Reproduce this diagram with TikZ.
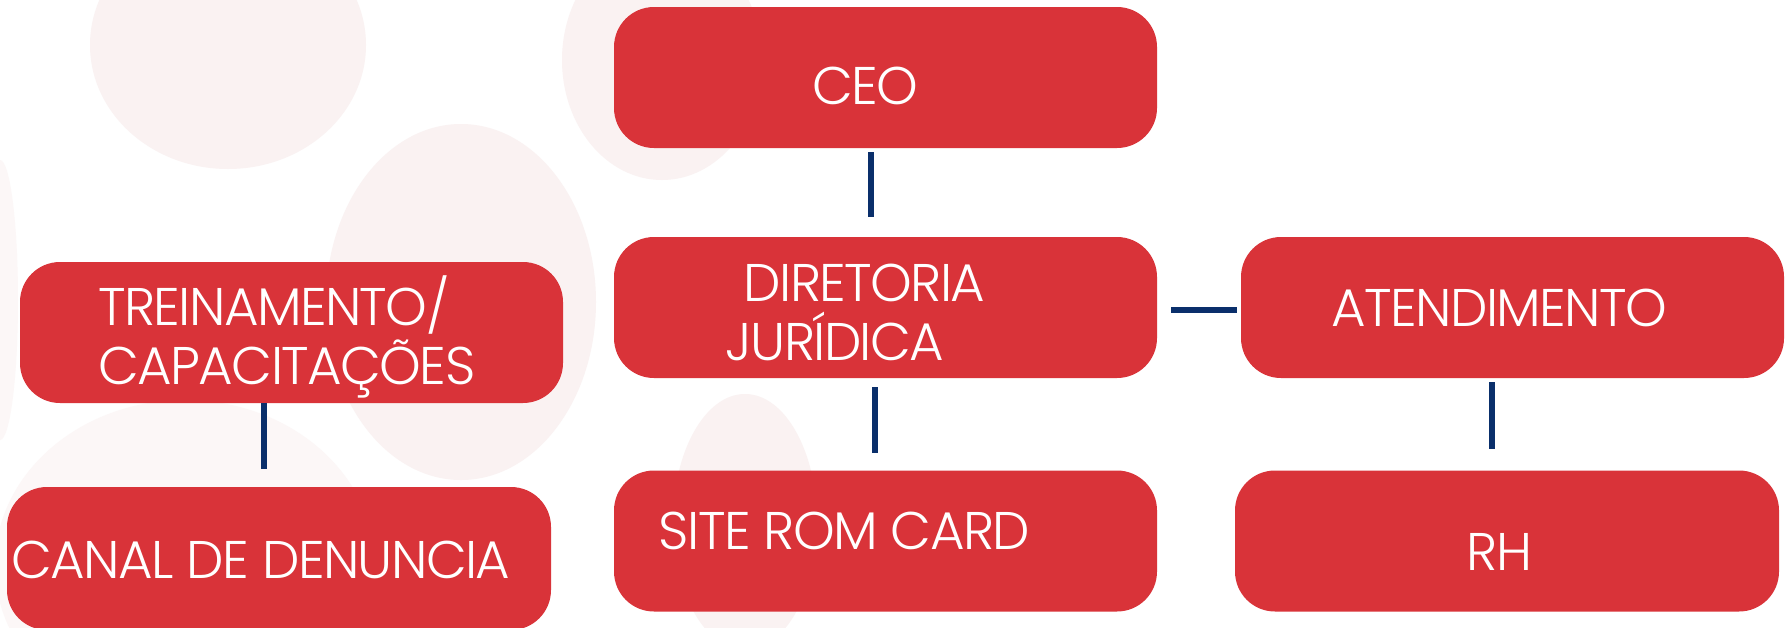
\documentclass[tikz,border=0pt]{standalone}
\usepackage{fontspec}
\IfFontExistsTF{Poppins Light}{\setmainfont{Poppins Light}[LetterSpace=-3]}{\setmainfont{Poppins}[LetterSpace=-3]}
\definecolor{boxred}{HTML}{D93339}
\definecolor{navy}{HTML}{0A2F6B}
\definecolor{blob}{HTML}{FAF2F2}
\definecolor{blobfaint}{HTML}{FCF7F7}
\tikzset{
  box/.style={fill=boxred, rounded corners=40pt, inner sep=0pt, outer sep=0pt, minimum width=543pt, minimum height=141pt},
  lbl/.style={text=white, font=\fontsize{53}{59}\selectfont, inner sep=0pt, anchor=base},
  conn/.style={draw=navy, line width=6pt},
  deco/.style={fill=blob, draw=none}
}
\begin{document}
\begin{tikzpicture}[x=1pt,y=-1pt]
\useasboundingbox (0,0) rectangle (1787,627);
\clip (0,0) rectangle (1787,627);
\fill[white] (0,0) rectangle (1787,627);
% faint background blobs
\fill[blobfaint] (185,565) ellipse [x radius=190, y radius=165];
\fill[blobfaint] (0,300) ellipse [x radius=18, y radius=140];
\fill[deco] (228,45) ellipse [x radius=138, y radius=124];
\fill[deco] (461,302) ellipse [x radius=135, y radius=178];
\fill[deco] (662,60) ellipse [x radius=100, y radius=120];
\fill[deco] (745,522) ellipse [x radius=72, y radius=128];
% boxes
\node[box] (ceo) at (885.5,77.5) {};
\node[box] (dir) at (885.5,307.5) {};
\node[box] (site) at (885.5,541) {};
\node[box] (trein) at (291.5,332.5) {};
\node[box, minimum width=544pt, minimum height=143pt] (canal) at (279,558.5) {};
\node[box] (atend) at (1512.5,307.5) {};
\node[box, minimum width=544pt] (rh) at (1507,541) {};
% labels
\node[lbl] (tceo) at (865.5,104) {CEO};
\node[lbl] (tdir1) at (864.5,301) {DIRETORIA};
\node[lbl] (tdir2) at (835,360) {JURÍDICA};
\node[lbl] (tsite) at (844.5,549) {SITE ROM CARD};
\node[lbl, anchor=base west] (ttr1) at (98,325) {TREINAMENTO/};
\node[lbl, anchor=base west] (ttr2) at (98,384) {CAPACITAÇÕES};
\node[lbl] (tcanal) at (261,578) {CANAL DE DENUNCIA};
\node[lbl] (tatend) at (1499.5,326) {ATENDIMENTO};
\node[lbl] (trh) at (1499.5,570) {RH};
% connector anchors
\coordinate (c1) at ([xshift=-15pt]ceo.south);
\coordinate (c2) at ([xshift=-11pt]dir.south);
\coordinate (c3) at ([xshift=-27.5pt]trein.south);
\coordinate (c4) at ([yshift=-2.5pt]dir.east);
\coordinate (c5) at ([xshift=-20.5pt]atend.south);
% connectors
\draw[conn, shorten <=4pt, shorten >=20pt] (c1) -- (c1 |- dir.north);
\draw[conn, shorten <=9pt, shorten >=18pt] (c2) -- (c2 |- site.north);
\draw[conn, shorten >=18pt] (c3) -- (c3 |- canal.north);
\draw[conn, shorten <=14pt, shorten >=4pt] (c4) -- (c4 -| atend.west);
\draw[conn, shorten <=4pt, shorten >=22pt] (c5) -- (c5 |- rh.north);
\end{tikzpicture}
\end{document}
